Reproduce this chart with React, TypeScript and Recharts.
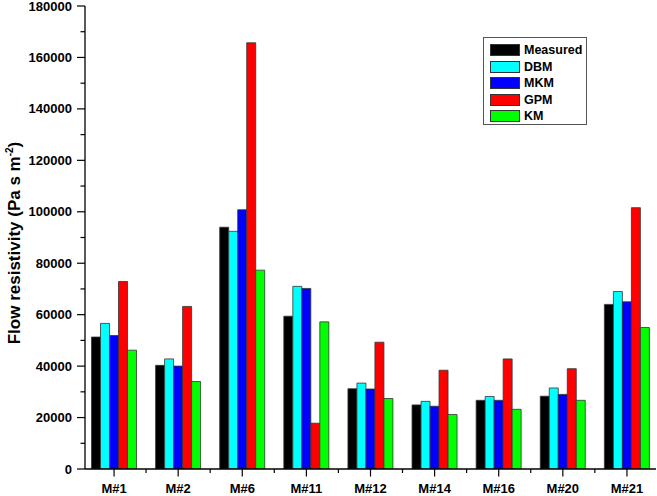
import React from 'react'
import {
  BarChart, Bar, XAxis, YAxis, Legend,
} from 'recharts'

// values (Pa s m^-2)
const categories = ['M#1', 'M#2', 'M#6', 'M#11', 'M#12', 'M#14', 'M#16', 'M#20', 'M#21']
const measured = [51300, 40300, 94000, 59400, 31200, 24900, 26700, 28300, 64000]
const dbm = [56600, 42800, 92400, 71000, 33400, 26300, 28200, 31500, 69000]
const mkm = [51900, 40000, 100800, 70200, 31100, 24400, 26700, 29000, 65000]
const gpm = [72900, 63200, 165700, 17800, 49300, 38400, 42800, 39000, 101600]
const km = [46200, 34000, 77300, 57200, 27400, 21200, 23200, 26700, 55000]

const yTicks = [
  0, 10000, 20000, 30000, 40000, 50000, 60000, 70000, 80000, 90000,
  100000, 110000, 120000, 130000, 140000, 150000, 160000, 170000, 180000,
]
const yLabelled = [0, 20000, 40000, 60000, 80000, 100000, 120000, 140000, 160000, 180000]

const series = [
  { key: 'Measured', values: measured, fill: '#000000' },
  { key: 'DBM', values: dbm, fill: '#00ffff' },
  { key: 'MKM', values: mkm, fill: '#0000ff' },
  { key: 'GPM', values: gpm, fill: '#ff0000' },
  { key: 'KM', values: km, fill: '#00ff00' },
]
const seriesOrder = series.map((s) => s.key)

const data = categories.map((name, i) => {
  const row: any = { name }
  series.forEach((s) => { row[s.key] = s.values[i] })
  return row
})

const FONT = '"Liberation Sans", Arial, sans-serif'
const BAND = 64

function YTick({ x, y, payload }: any) {
  const major = yLabelled.includes(payload.value)
  return (
    <g>
      <line x1={x} x2={x - (major ? 8 : 4.5)} y1={y} y2={y} stroke="#000" strokeWidth={1.2} />
      {major && (
        <text x={x - 13} y={y + 4.6} textAnchor="end" fontFamily={FONT} fontWeight={700} fontSize={13} fill="#000">
          {payload.value}
        </text>
      )}
    </g>
  )
}

function XTick({ x, y, payload, index }: any) {
  return (
    <g>
      <line x1={x} x2={x} y1={y} y2={y + 7.5} stroke="#000" strokeWidth={1.2} />
      {index < categories.length - 1 && (
        <line x1={x + BAND / 2} x2={x + BAND / 2} y1={y} y2={y + 4} stroke="#000" strokeWidth={1.2} />
      )}
      <text x={x} y={y + 24} textAnchor="middle" fontFamily={FONT} fontWeight={700} fontSize={13} fill="#000">
        {payload.value}
      </text>
    </g>
  )
}

function YTitle() {
  const cx = 20, cy = 243
  return (
    <text
      x={cx} y={cy}
      transform={`rotate(-90, ${cx}, ${cy})`}
      textAnchor="middle"
      fontFamily={FONT}
      fontWeight={700}
      fontSize={17}
      fill="#000"
    >
      <tspan>Flow resistivity (Pa s m</tspan>
      <tspan fontSize={10} dy={-7}>-2</tspan>
      <tspan dy={7}>)</tspan>
    </text>
  )
}

function LegendBox({ payload }: any) {
  const items = [...(payload || [])].sort(
    (a: any, b: any) => seriesOrder.indexOf(a.value) - seriesOrder.indexOf(b.value),
  )
  return (
    <div
      style={{
        width: 104, height: 88, boxSizing: 'border-box',
        border: '1px solid #555', background: '#fff',
        paddingTop: 4, paddingLeft: 6,
        fontFamily: FONT, fontWeight: 700, fontSize: 12.5, color: '#000',
      }}
    >
      {items.map((p: any) => (
        <div key={p.value} style={{ display: 'flex', alignItems: 'center', height: 16.5 }}>
          <span
            style={{
              display: 'inline-block', width: 30, height: 12, boxSizing: 'border-box',
              background: p.color, border: '1px solid #333', marginRight: 4,
            }}
          />
          <span style={{ lineHeight: '14px' }}>{p.value}</span>
        </div>
      ))}
    </div>
  )
}

export default function App() {
  return (
    <div style={{ width: 657, height: 496, background: '#fff' }}>
      <style>{'body{margin:0}'}</style>
      <BarChart
        width={657}
        height={496}
        data={data}
        margin={{ top: 6, right: 1, left: 0, bottom: 0 }}
        barGap={0}
        barCategoryGap="14.8%"
      >
        <XAxis
          dataKey="name"
          height={27}
          interval={0}
          padding={{ left: -3, right: -3 }}
          axisLine={{ stroke: '#000', strokeWidth: 1.3 }}
          tickLine={false}
          tickSize={0}
          tickMargin={0}
          tick={<XTick />}
        />
        <XAxis
          xAxisId="top"
          dataKey="name"
          orientation="top"
          height={0}
          axisLine={{ stroke: '#000', strokeWidth: 1.3 }}
          tickLine={false}
          tick={false}
        />
        <YAxis
          width={85}
          domain={[0, 180000]}
          ticks={yTicks}
          interval={0}
          allowDataOverflow
          axisLine={{ stroke: '#000', strokeWidth: 1.3 }}
          tickLine={false}
          tickSize={0}
          tickMargin={0}
          tick={<YTick />}
          label={{ content: () => <YTitle /> }}
        />
        <YAxis
          yAxisId="right"
          orientation="right"
          width={0}
          domain={[0, 180000]}
          axisLine={{ stroke: '#000', strokeWidth: 1.3 }}
          tickLine={false}
          tick={false}
        />
        <Legend
          layout="vertical"
          align="center"
          verticalAlign="middle"
          wrapperStyle={{ left: 483, top: 37, width: 104, height: 88 }}
          content={<LegendBox />}
        />
        {series.map((s) => (
          <Bar
            key={s.key}
            dataKey={s.key}
            name={s.key}
            fill={s.fill}
            stroke="#333"
            strokeWidth={0.8}
            isAnimationActive={false}
          />
        ))}
      </BarChart>
    </div>
  )
}
